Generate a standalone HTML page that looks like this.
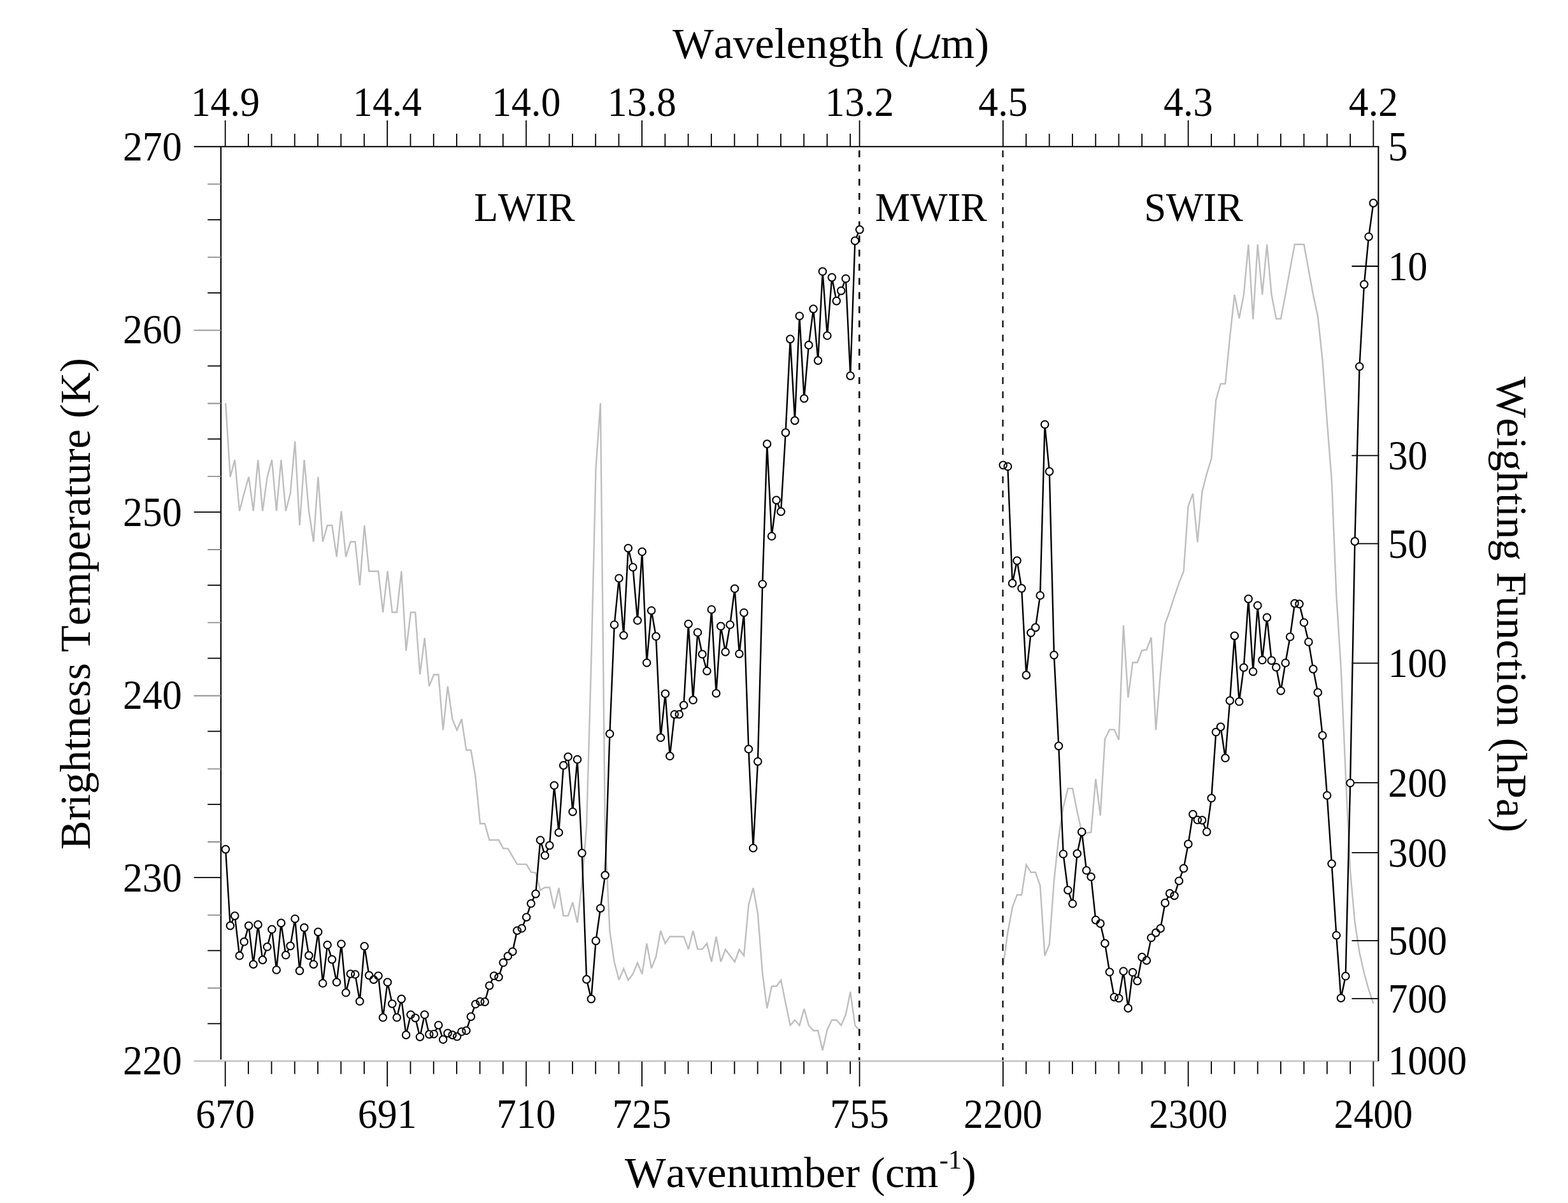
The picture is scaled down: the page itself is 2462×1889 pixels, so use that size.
<!DOCTYPE html>
<html lang="en"><head><meta charset="utf-8"><title>Brightness temperature and weighting function</title>
<style>html,body{margin:0;padding:0;background:#fff;overflow:hidden}svg{display:block}text{font-family:"Liberation Serif","DejaVu Serif",serif;fill:#000;font-kerning:none;font-variant-ligatures:none}.tk{font-size:61.8px}.tt{font-size:68.5px}.rg{font-size:62px}</style></head><body>
<svg width="2462" height="1889" viewBox="0 0 2462 1889" role="img" aria-label="Brightness temperature and weighting function versus wavenumber">
<rect width="2462" height="1889" fill="#fff"/>
<g id="weighting">
<polyline points="354.2,633.2 361.5,748.9 368.7,722.1 376,802.5 383.3,774.6 390.5,748.9 397.8,802.5 405.1,722.1 412.3,802.5 419.6,748.9 426.9,722.1 434.1,802.5 441.4,722.1 448.7,802.5 455.9,774.6 463.2,693.2 470.5,825 477.7,722.1 485,802.5 492.3,850.7 499.5,748.9 506.8,850.7 514.1,825 521.3,825 528.6,874.3 535.9,802.5 543.1,874.3 550.4,850.7 557.7,850.7 564.9,919 572.2,825 579.5,897 586.7,897 594,897 601.3,961.5 608.5,897 615.8,961.5 623.1,961.5 630.3,897 637.6,1021.9 644.9,961.5 652.1,961.5 659.4,1059.2 666.7,1001.7 673.9,1077.6 681.2,1059.2 688.5,1059.2 695.7,1146.4 703,1077.6 710.3,1129.2 717.5,1146.4 724.8,1129.2 732.1,1177.7 739.4,1177.7 746.6,1220 753.9,1293.3 761.2,1293.3 768.4,1319 775.7,1319 783,1319 790.2,1332.4 797.5,1332.4 804.8,1344.8 812,1357.1 819.3,1357.1 826.6,1357.1 833.8,1369.5 841.1,1370.5 848.4,1398 855.6,1393.5 862.9,1393.5 870.2,1426.5 877.4,1394.2 884.7,1438 892,1438 899.2,1416.8 906.5,1448.8 913.8,1387 921,1297 928.3,1040 935.6,735 942.8,633 950.1,1310 957.4,1462 964.6,1511 971.9,1538.6 979.2,1521 986.4,1539.1 993.7,1529.5 1001,1511.9 1008.2,1529.5 1015.5,1481.4 1022.8,1520.4 1030,1502.3 1037.3,1461.6 1044.6,1481.4 1051.8,1470.7 1059.1,1470.7 1066.4,1470.7 1073.6,1470.7 1080.9,1490.4 1088.2,1461.6 1095.4,1490.4 1102.7,1490.4 1110,1481.4 1117.2,1510.2 1124.5,1470.7 1131.8,1510.2 1139,1491 1146.3,1500.6 1153.6,1510.2 1160.8,1491 1168.1,1500.6 1175.4,1421 1182.6,1394.2 1189.9,1435 1197.2,1528.3 1204.4,1583.3 1211.7,1548.7 1219,1548.7 1226.2,1539.2 1233.5,1575 1240.8,1610 1248,1601.7 1255.3,1610 1262.6,1584.2 1269.8,1610 1277.1,1618.3 1284.4,1618.3 1291.6,1649.2 1298.9,1616.7 1306.2,1601.7 1313.4,1601.7 1320.7,1610 1328,1593.3 1335.2,1557.5 1342.5,1610 1349.8,1618.3" fill="none" stroke="#bebebe" stroke-width="2.4" stroke-linejoin="miter" stroke-miterlimit="3"/>
<polyline points="1575.1,1516.6 1582.3,1464.2 1589.6,1424.9 1596.9,1405.2 1604.1,1405.2 1611.4,1358.1 1618.7,1369.8 1625.9,1369.8 1633.2,1390.8 1640.5,1500.8 1647.7,1482.5 1655,1383 1662.3,1314.8 1669.5,1267.7 1676.8,1238.1 1684.1,1238.1 1691.3,1274.2 1698.6,1307 1705.9,1308 1713.1,1307 1720.4,1223.1 1727.7,1280.5 1734.9,1160.2 1742.2,1145.6 1749.5,1145.6 1756.7,1161.6 1764,981.7 1771.3,1095.3 1778.5,1040.2 1785.8,1040.2 1793.1,1021.4 1800.3,1020.3 1807.6,1001 1814.9,1146.5 1822.1,1057.5 1829.4,979.6 1836.7,959.2 1843.9,936.8 1851.2,915.3 1858.5,897.1 1865.7,794.5 1873,775.2 1880.3,851.5 1887.5,772.2 1894.8,743.9 1902.1,720.1 1909.3,627.9 1916.6,602.6 1923.9,602.6 1931.1,529.6 1938.4,462.7 1945.7,499.9 1952.9,462.7 1960.2,383.8 1967.5,501.4 1974.7,383.8 1982,462.7 1989.3,383.8 1996.5,462.7 2003.8,500.5 2011.1,500.5 2018.3,462.7 2025.6,422.5 2032.9,383.8 2040.1,383.8 2047.4,383.8 2054.7,424 2061.9,462.7 2069.2,496.9 2076.5,565 2083.7,662 2091,755 2098.3,935 2105.5,1048 2112.8,1215 2120.1,1368 2127.3,1448 2134.6,1496 2141.9,1528 2149.1,1554 2156.4,1576" fill="none" stroke="#bebebe" stroke-width="2.4" stroke-linejoin="miter" stroke-miterlimit="3"/>
</g>
<g id="axes" stroke="#000" stroke-width="2.1" fill="none">
<line x1="304.5" y1="1666.1" x2="2164.3" y2="1666.1" stroke="#c6c6c6" stroke-width="2.8"/>
<line x1="304.5" y1="230.3" x2="2165.3" y2="230.3"/>
<line x1="346.8" y1="230.3" x2="346.8" y2="1663.8"/>
<line x1="2164.3" y1="230.3" x2="2164.3" y2="1666.3"/>
<path d="M353.7 230.3V189M353.7 1666.8V1706M390 230.3V210M390 1666.8V1686.5M426.4 230.3V210M426.4 1666.8V1686.5M462.7 230.3V210M462.7 1666.8V1686.5M499.1 230.3V210M499.1 1666.8V1686.5M535.4 230.3V210M535.4 1666.8V1686.5M571.8 230.3V210M571.8 1666.8V1686.5M608.1 230.3V189M608.1 1666.8V1706M644.5 230.3V210M644.5 1666.8V1686.5M680.8 230.3V210M680.8 1666.8V1686.5M717.1 230.3V210M717.1 1666.8V1686.5M753.5 230.3V210M753.5 1666.8V1686.5M789.8 230.3V210M789.8 1666.8V1686.5M826.2 230.3V189M826.2 1666.8V1706M862.5 230.3V210M862.5 1666.8V1686.5M898.9 230.3V210M898.9 1666.8V1686.5M935.2 230.3V210M935.2 1666.8V1686.5M971.6 230.3V210M971.6 1666.8V1686.5M1007.9 230.3V189M1007.9 1666.8V1706M1044.3 230.3V210M1044.3 1666.8V1686.5M1080.6 230.3V210M1080.6 1666.8V1686.5M1116.9 230.3V210M1116.9 1666.8V1686.5M1153.3 230.3V210M1153.3 1666.8V1686.5M1189.6 230.3V210M1189.6 1666.8V1686.5M1226 230.3V210M1226 1666.8V1686.5M1262.3 230.3V210M1262.3 1666.8V1686.5M1298.7 230.3V210M1298.7 1666.8V1686.5M1335 230.3V210M1335 1666.8V1686.5M1349.6 230.3V189M1349.6 1666.8V1706M1574.9 230.3V189M1574.9 1666.8V1706M1611.2 230.3V210M1611.2 1666.8V1686.5M1647.6 230.3V210M1647.6 1666.8V1686.5M1683.9 230.3V210M1683.9 1666.8V1686.5M1720.3 230.3V210M1720.3 1666.8V1686.5M1756.6 230.3V210M1756.6 1666.8V1686.5M1793 230.3V210M1793 1666.8V1686.5M1829.3 230.3V210M1829.3 1666.8V1686.5M1865.7 230.3V189M1865.7 1666.8V1706M1902 230.3V210M1902 1666.8V1686.5M1938.3 230.3V210M1938.3 1666.8V1686.5M1974.7 230.3V210M1974.7 1666.8V1686.5M2011 230.3V210M2011 1666.8V1686.5M2047.4 230.3V210M2047.4 1666.8V1686.5M2083.7 230.3V210M2083.7 1666.8V1686.5M2120.1 230.3V210M2120.1 1666.8V1686.5M2156.4 230.3V189M2156.4 1666.8V1706M326 345.1H346.8M326 459.8H346.8M326 574.6H346.8M326 689.3H346.8M304.5 804.1H346.8M326 918.9H346.8M326 1033.6H346.8M326 1148.4H346.8M326 1263.1H346.8M304.5 1377.9H346.8M326 1492.7H346.8M326 1607.4H346.8M2122.5 418H2164.3M2122.5 715.4H2164.3M2122.5 853.7H2164.3M2122.5 1041.4H2164.3M2122.5 1229.1H2164.3M2122.5 1338.8H2164.3M2122.5 1477.1H2164.3M2122.5 1568.2H2164.3" stroke-width="1.8"/>
<path d="M326 289.2H346.8M326 403.9H346.8M304.5 518.7H346.8M326 633.5H346.8M326 748.2H346.8M326 863H346.8M326 977.7H346.8M304.5 1092.5H346.8M326 1207.3H346.8M326 1322H346.8M326 1436.8H346.8M326 1551.5H346.8" stroke="#8f8f8f" stroke-width="1.8"/>
<line x1="1349.3" y1="230.3" x2="1349.3" y2="1664.8" stroke-width="2.6" stroke-dasharray="10.8 11.45" stroke-dashoffset="-6"/>
<line x1="1574.6" y1="230.3" x2="1574.6" y2="1664.8" stroke-width="2.2" stroke-dasharray="10.8 11.45" stroke-dashoffset="-6"/>
</g>
<g id="brightness" stroke="#000" fill="none">
<polyline points="354.2,1333.6 361.5,1453.6 368.7,1438.1 376,1500.8 383.3,1478.8 390.5,1453.6 397.8,1514.2 405.1,1451.9 412.3,1507.4 419.6,1486.8 426.9,1459.3 434.1,1523 441.4,1449.4 448.7,1499.8 455.9,1485.4 463.2,1442.7 470.5,1524.4 477.7,1456.6 485,1500.4 492.3,1514.2 499.5,1463.4 506.8,1544 514.1,1483.8 521.3,1506.6 528.6,1542.3 535.9,1482.3 543.1,1558.8 550.4,1529.2 557.7,1530 564.9,1572.3 572.2,1485.8 579.5,1531.6 586.7,1538.2 594,1532.2 601.3,1597.8 608.5,1542.3 615.8,1576.2 623.1,1597.8 630.3,1568.6 637.6,1625.1 644.9,1593.3 652.1,1598.4 659.4,1628.2 666.7,1593.3 673.9,1624.1 681.2,1623.7 688.5,1609.7 695.7,1632.3 703,1622.4 710.3,1625.1 717.5,1627.8 724.8,1620 732.1,1618.3 739.4,1596.4 746.6,1576.8 753.9,1572.7 761.2,1573.1 768.4,1547.7 775.7,1532.3 783,1534.3 790.2,1511.5 797.5,1501.3 804.8,1494.2 812,1461.2 819.3,1457.8 826.6,1440.2 833.8,1418.8 841.1,1403.6 848.4,1319.2 855.6,1343.3 862.9,1327.6 870.2,1233.3 877.4,1307.2 884.7,1201.9 892,1188.3 899.2,1274.7 906.5,1192.5 913.8,1339.6 921,1537.9 928.3,1568.6 935.6,1477.4 942.8,1426.2 950.1,1374.3 957.4,1152.3 964.6,981 971.9,908 979.2,997.7 986.4,860.7 993.7,890.7 1001,974.3 1008.2,866.3 1015.5,1040.7 1022.8,958.7 1030,999.3 1037.3,1158.3 1044.6,1089.3 1051.8,1187.3 1059.1,1121.7 1066.4,1121.7 1073.6,1107.3 1080.9,979.7 1088.2,1099.3 1095.4,993 1102.7,1027.3 1110,1053.7 1117.2,957 1124.5,1088.7 1131.8,983.3 1139,1023.7 1146.3,981 1153.6,924.3 1160.8,1026.7 1168.1,962 1175.4,1176.3 1182.6,1331.7 1189.9,1195.7 1197.2,917.2 1204.4,697.1 1211.7,842 1219,785.3 1226.2,803.4 1233.5,679.4 1240.8,532.4 1248,660.4 1255.3,496.2 1262.6,625.7 1269.8,541.9 1277.1,485.1 1284.4,566.1 1291.6,426.3 1298.9,527 1306.2,435.6 1313.4,472.6 1320.7,456.6 1328,437.5 1335.2,590.1 1342.5,378.1 1349.8,360.6" fill="none" stroke="#000" stroke-width="2.4" stroke-linejoin="miter" stroke-miterlimit="3"/>
<polyline points="1575.1,730.3 1582.3,732.5 1589.6,915.9 1596.9,880.3 1604.1,923.8 1611.4,1060.1 1618.7,993.6 1625.9,985.4 1633.2,935 1640.5,666.5 1647.7,740.4 1655,1028.6 1662.3,1171.4 1669.5,1341 1676.8,1397.7 1684.1,1419 1691.3,1340.4 1698.6,1306.4 1705.9,1366.8 1713.1,1376.8 1720.4,1444.6 1727.7,1450.1 1734.9,1481.4 1742.2,1526.3 1749.5,1565.7 1756.7,1567.5 1764,1525 1771.3,1583.2 1778.5,1526.8 1785.8,1540.4 1793.1,1502.9 1800.3,1508.2 1807.6,1472.5 1814.9,1464.6 1822.1,1457.9 1829.4,1417.9 1836.7,1402.9 1843.9,1406.4 1851.2,1383.2 1858.5,1363.6 1865.7,1325.4 1873,1278.6 1880.3,1287.5 1887.5,1287.9 1894.8,1306.1 1902.1,1253.3 1909.3,1149.5 1916.6,1141.3 1923.9,1190.3 1931.1,1100.1 1938.4,998.4 1945.7,1101.8 1952.9,1048.2 1960.2,940.4 1967.5,1054.7 1974.7,950.8 1982,1036.5 1989.3,969.6 1996.5,1037.1 2003.8,1047.8 2011.1,1084.7 2018.3,1041 2025.6,1000 2032.9,947.6 2040.1,948.4 2047.4,977.5 2054.7,1008 2061.9,1050.6 2069.2,1087.4 2076.5,1154.9 2083.7,1249 2091,1356.3 2098.3,1468.7 2105.5,1567.2 2112.8,1532.8 2120.1,1229.5 2127.3,850.1 2134.6,575.5 2141.9,446.6 2149.1,371.7 2156.4,318.9" fill="none" stroke="#000" stroke-width="2.4" stroke-linejoin="miter" stroke-miterlimit="3"/>
<path d="M348.4 1333.6a5.8 5.8 0 1 0 11.6 0a5.8 5.8 0 1 0 -11.6 0zM355.7 1453.6a5.8 5.8 0 1 0 11.6 0a5.8 5.8 0 1 0 -11.6 0zM362.9 1438.1a5.8 5.8 0 1 0 11.6 0a5.8 5.8 0 1 0 -11.6 0zM370.2 1500.8a5.8 5.8 0 1 0 11.6 0a5.8 5.8 0 1 0 -11.6 0zM377.5 1478.8a5.8 5.8 0 1 0 11.6 0a5.8 5.8 0 1 0 -11.6 0zM384.7 1453.6a5.8 5.8 0 1 0 11.6 0a5.8 5.8 0 1 0 -11.6 0zM392 1514.2a5.8 5.8 0 1 0 11.6 0a5.8 5.8 0 1 0 -11.6 0zM399.3 1451.9a5.8 5.8 0 1 0 11.6 0a5.8 5.8 0 1 0 -11.6 0zM406.5 1507.4a5.8 5.8 0 1 0 11.6 0a5.8 5.8 0 1 0 -11.6 0zM413.8 1486.8a5.8 5.8 0 1 0 11.6 0a5.8 5.8 0 1 0 -11.6 0zM421.1 1459.3a5.8 5.8 0 1 0 11.6 0a5.8 5.8 0 1 0 -11.6 0zM428.3 1523a5.8 5.8 0 1 0 11.6 0a5.8 5.8 0 1 0 -11.6 0zM435.6 1449.4a5.8 5.8 0 1 0 11.6 0a5.8 5.8 0 1 0 -11.6 0zM442.9 1499.8a5.8 5.8 0 1 0 11.6 0a5.8 5.8 0 1 0 -11.6 0zM450.1 1485.4a5.8 5.8 0 1 0 11.6 0a5.8 5.8 0 1 0 -11.6 0zM457.4 1442.7a5.8 5.8 0 1 0 11.6 0a5.8 5.8 0 1 0 -11.6 0zM464.7 1524.4a5.8 5.8 0 1 0 11.6 0a5.8 5.8 0 1 0 -11.6 0zM471.9 1456.6a5.8 5.8 0 1 0 11.6 0a5.8 5.8 0 1 0 -11.6 0zM479.2 1500.4a5.8 5.8 0 1 0 11.6 0a5.8 5.8 0 1 0 -11.6 0zM486.5 1514.2a5.8 5.8 0 1 0 11.6 0a5.8 5.8 0 1 0 -11.6 0zM493.7 1463.4a5.8 5.8 0 1 0 11.6 0a5.8 5.8 0 1 0 -11.6 0zM501 1544a5.8 5.8 0 1 0 11.6 0a5.8 5.8 0 1 0 -11.6 0zM508.3 1483.8a5.8 5.8 0 1 0 11.6 0a5.8 5.8 0 1 0 -11.6 0zM515.5 1506.6a5.8 5.8 0 1 0 11.6 0a5.8 5.8 0 1 0 -11.6 0zM522.8 1542.3a5.8 5.8 0 1 0 11.6 0a5.8 5.8 0 1 0 -11.6 0zM530.1 1482.3a5.8 5.8 0 1 0 11.6 0a5.8 5.8 0 1 0 -11.6 0zM537.3 1558.8a5.8 5.8 0 1 0 11.6 0a5.8 5.8 0 1 0 -11.6 0zM544.6 1529.2a5.8 5.8 0 1 0 11.6 0a5.8 5.8 0 1 0 -11.6 0zM551.9 1530a5.8 5.8 0 1 0 11.6 0a5.8 5.8 0 1 0 -11.6 0zM559.1 1572.3a5.8 5.8 0 1 0 11.6 0a5.8 5.8 0 1 0 -11.6 0zM566.4 1485.8a5.8 5.8 0 1 0 11.6 0a5.8 5.8 0 1 0 -11.6 0zM573.7 1531.6a5.8 5.8 0 1 0 11.6 0a5.8 5.8 0 1 0 -11.6 0zM580.9 1538.2a5.8 5.8 0 1 0 11.6 0a5.8 5.8 0 1 0 -11.6 0zM588.2 1532.2a5.8 5.8 0 1 0 11.6 0a5.8 5.8 0 1 0 -11.6 0zM595.5 1597.8a5.8 5.8 0 1 0 11.6 0a5.8 5.8 0 1 0 -11.6 0zM602.7 1542.3a5.8 5.8 0 1 0 11.6 0a5.8 5.8 0 1 0 -11.6 0zM610 1576.2a5.8 5.8 0 1 0 11.6 0a5.8 5.8 0 1 0 -11.6 0zM617.3 1597.8a5.8 5.8 0 1 0 11.6 0a5.8 5.8 0 1 0 -11.6 0zM624.5 1568.6a5.8 5.8 0 1 0 11.6 0a5.8 5.8 0 1 0 -11.6 0zM631.8 1625.1a5.8 5.8 0 1 0 11.6 0a5.8 5.8 0 1 0 -11.6 0zM639.1 1593.3a5.8 5.8 0 1 0 11.6 0a5.8 5.8 0 1 0 -11.6 0zM646.3 1598.4a5.8 5.8 0 1 0 11.6 0a5.8 5.8 0 1 0 -11.6 0zM653.6 1628.2a5.8 5.8 0 1 0 11.6 0a5.8 5.8 0 1 0 -11.6 0zM660.9 1593.3a5.8 5.8 0 1 0 11.6 0a5.8 5.8 0 1 0 -11.6 0zM668.1 1624.1a5.8 5.8 0 1 0 11.6 0a5.8 5.8 0 1 0 -11.6 0zM675.4 1623.7a5.8 5.8 0 1 0 11.6 0a5.8 5.8 0 1 0 -11.6 0zM682.7 1609.7a5.8 5.8 0 1 0 11.6 0a5.8 5.8 0 1 0 -11.6 0zM689.9 1632.3a5.8 5.8 0 1 0 11.6 0a5.8 5.8 0 1 0 -11.6 0zM697.2 1622.4a5.8 5.8 0 1 0 11.6 0a5.8 5.8 0 1 0 -11.6 0zM704.5 1625.1a5.8 5.8 0 1 0 11.6 0a5.8 5.8 0 1 0 -11.6 0zM711.8 1627.8a5.8 5.8 0 1 0 11.6 0a5.8 5.8 0 1 0 -11.6 0zM719 1620a5.8 5.8 0 1 0 11.6 0a5.8 5.8 0 1 0 -11.6 0zM726.3 1618.3a5.8 5.8 0 1 0 11.6 0a5.8 5.8 0 1 0 -11.6 0zM733.6 1596.4a5.8 5.8 0 1 0 11.6 0a5.8 5.8 0 1 0 -11.6 0zM740.8 1576.8a5.8 5.8 0 1 0 11.6 0a5.8 5.8 0 1 0 -11.6 0zM748.1 1572.7a5.8 5.8 0 1 0 11.6 0a5.8 5.8 0 1 0 -11.6 0zM755.4 1573.1a5.8 5.8 0 1 0 11.6 0a5.8 5.8 0 1 0 -11.6 0zM762.6 1547.7a5.8 5.8 0 1 0 11.6 0a5.8 5.8 0 1 0 -11.6 0zM769.9 1532.3a5.8 5.8 0 1 0 11.6 0a5.8 5.8 0 1 0 -11.6 0zM777.2 1534.3a5.8 5.8 0 1 0 11.6 0a5.8 5.8 0 1 0 -11.6 0zM784.4 1511.5a5.8 5.8 0 1 0 11.6 0a5.8 5.8 0 1 0 -11.6 0zM791.7 1501.3a5.8 5.8 0 1 0 11.6 0a5.8 5.8 0 1 0 -11.6 0zM799 1494.2a5.8 5.8 0 1 0 11.6 0a5.8 5.8 0 1 0 -11.6 0zM806.2 1461.2a5.8 5.8 0 1 0 11.6 0a5.8 5.8 0 1 0 -11.6 0zM813.5 1457.8a5.8 5.8 0 1 0 11.6 0a5.8 5.8 0 1 0 -11.6 0zM820.8 1440.2a5.8 5.8 0 1 0 11.6 0a5.8 5.8 0 1 0 -11.6 0zM828 1418.8a5.8 5.8 0 1 0 11.6 0a5.8 5.8 0 1 0 -11.6 0zM835.3 1403.6a5.8 5.8 0 1 0 11.6 0a5.8 5.8 0 1 0 -11.6 0zM842.6 1319.2a5.8 5.8 0 1 0 11.6 0a5.8 5.8 0 1 0 -11.6 0zM849.8 1343.3a5.8 5.8 0 1 0 11.6 0a5.8 5.8 0 1 0 -11.6 0zM857.1 1327.6a5.8 5.8 0 1 0 11.6 0a5.8 5.8 0 1 0 -11.6 0zM864.4 1233.3a5.8 5.8 0 1 0 11.6 0a5.8 5.8 0 1 0 -11.6 0zM871.6 1307.2a5.8 5.8 0 1 0 11.6 0a5.8 5.8 0 1 0 -11.6 0zM878.9 1201.9a5.8 5.8 0 1 0 11.6 0a5.8 5.8 0 1 0 -11.6 0zM886.2 1188.3a5.8 5.8 0 1 0 11.6 0a5.8 5.8 0 1 0 -11.6 0zM893.4 1274.7a5.8 5.8 0 1 0 11.6 0a5.8 5.8 0 1 0 -11.6 0zM900.7 1192.5a5.8 5.8 0 1 0 11.6 0a5.8 5.8 0 1 0 -11.6 0zM908 1339.6a5.8 5.8 0 1 0 11.6 0a5.8 5.8 0 1 0 -11.6 0zM915.2 1537.9a5.8 5.8 0 1 0 11.6 0a5.8 5.8 0 1 0 -11.6 0zM922.5 1568.6a5.8 5.8 0 1 0 11.6 0a5.8 5.8 0 1 0 -11.6 0zM929.8 1477.4a5.8 5.8 0 1 0 11.6 0a5.8 5.8 0 1 0 -11.6 0zM937 1426.2a5.8 5.8 0 1 0 11.6 0a5.8 5.8 0 1 0 -11.6 0zM944.3 1374.3a5.8 5.8 0 1 0 11.6 0a5.8 5.8 0 1 0 -11.6 0zM951.6 1152.3a5.8 5.8 0 1 0 11.6 0a5.8 5.8 0 1 0 -11.6 0zM958.8 981a5.8 5.8 0 1 0 11.6 0a5.8 5.8 0 1 0 -11.6 0zM966.1 908a5.8 5.8 0 1 0 11.6 0a5.8 5.8 0 1 0 -11.6 0zM973.4 997.7a5.8 5.8 0 1 0 11.6 0a5.8 5.8 0 1 0 -11.6 0zM980.6 860.7a5.8 5.8 0 1 0 11.6 0a5.8 5.8 0 1 0 -11.6 0zM987.9 890.7a5.8 5.8 0 1 0 11.6 0a5.8 5.8 0 1 0 -11.6 0zM995.2 974.3a5.8 5.8 0 1 0 11.6 0a5.8 5.8 0 1 0 -11.6 0zM1002.4 866.3a5.8 5.8 0 1 0 11.6 0a5.8 5.8 0 1 0 -11.6 0zM1009.7 1040.7a5.8 5.8 0 1 0 11.6 0a5.8 5.8 0 1 0 -11.6 0zM1017 958.7a5.8 5.8 0 1 0 11.6 0a5.8 5.8 0 1 0 -11.6 0zM1024.2 999.3a5.8 5.8 0 1 0 11.6 0a5.8 5.8 0 1 0 -11.6 0zM1031.5 1158.3a5.8 5.8 0 1 0 11.6 0a5.8 5.8 0 1 0 -11.6 0zM1038.8 1089.3a5.8 5.8 0 1 0 11.6 0a5.8 5.8 0 1 0 -11.6 0zM1046 1187.3a5.8 5.8 0 1 0 11.6 0a5.8 5.8 0 1 0 -11.6 0zM1053.3 1121.7a5.8 5.8 0 1 0 11.6 0a5.8 5.8 0 1 0 -11.6 0zM1060.6 1121.7a5.8 5.8 0 1 0 11.6 0a5.8 5.8 0 1 0 -11.6 0zM1067.8 1107.3a5.8 5.8 0 1 0 11.6 0a5.8 5.8 0 1 0 -11.6 0zM1075.1 979.7a5.8 5.8 0 1 0 11.6 0a5.8 5.8 0 1 0 -11.6 0zM1082.4 1099.3a5.8 5.8 0 1 0 11.6 0a5.8 5.8 0 1 0 -11.6 0zM1089.6 993a5.8 5.8 0 1 0 11.6 0a5.8 5.8 0 1 0 -11.6 0zM1096.9 1027.3a5.8 5.8 0 1 0 11.6 0a5.8 5.8 0 1 0 -11.6 0zM1104.2 1053.7a5.8 5.8 0 1 0 11.6 0a5.8 5.8 0 1 0 -11.6 0zM1111.4 957a5.8 5.8 0 1 0 11.6 0a5.8 5.8 0 1 0 -11.6 0zM1118.7 1088.7a5.8 5.8 0 1 0 11.6 0a5.8 5.8 0 1 0 -11.6 0zM1126 983.3a5.8 5.8 0 1 0 11.6 0a5.8 5.8 0 1 0 -11.6 0zM1133.2 1023.7a5.8 5.8 0 1 0 11.6 0a5.8 5.8 0 1 0 -11.6 0zM1140.5 981a5.8 5.8 0 1 0 11.6 0a5.8 5.8 0 1 0 -11.6 0zM1147.8 924.3a5.8 5.8 0 1 0 11.6 0a5.8 5.8 0 1 0 -11.6 0zM1155 1026.7a5.8 5.8 0 1 0 11.6 0a5.8 5.8 0 1 0 -11.6 0zM1162.3 962a5.8 5.8 0 1 0 11.6 0a5.8 5.8 0 1 0 -11.6 0zM1169.6 1176.3a5.8 5.8 0 1 0 11.6 0a5.8 5.8 0 1 0 -11.6 0zM1176.8 1331.7a5.8 5.8 0 1 0 11.6 0a5.8 5.8 0 1 0 -11.6 0zM1184.1 1195.7a5.8 5.8 0 1 0 11.6 0a5.8 5.8 0 1 0 -11.6 0zM1191.4 917.2a5.8 5.8 0 1 0 11.6 0a5.8 5.8 0 1 0 -11.6 0zM1198.6 697.1a5.8 5.8 0 1 0 11.6 0a5.8 5.8 0 1 0 -11.6 0zM1205.9 842a5.8 5.8 0 1 0 11.6 0a5.8 5.8 0 1 0 -11.6 0zM1213.2 785.3a5.8 5.8 0 1 0 11.6 0a5.8 5.8 0 1 0 -11.6 0zM1220.4 803.4a5.8 5.8 0 1 0 11.6 0a5.8 5.8 0 1 0 -11.6 0zM1227.7 679.4a5.8 5.8 0 1 0 11.6 0a5.8 5.8 0 1 0 -11.6 0zM1235 532.4a5.8 5.8 0 1 0 11.6 0a5.8 5.8 0 1 0 -11.6 0zM1242.2 660.4a5.8 5.8 0 1 0 11.6 0a5.8 5.8 0 1 0 -11.6 0zM1249.5 496.2a5.8 5.8 0 1 0 11.6 0a5.8 5.8 0 1 0 -11.6 0zM1256.8 625.7a5.8 5.8 0 1 0 11.6 0a5.8 5.8 0 1 0 -11.6 0zM1264 541.9a5.8 5.8 0 1 0 11.6 0a5.8 5.8 0 1 0 -11.6 0zM1271.3 485.1a5.8 5.8 0 1 0 11.6 0a5.8 5.8 0 1 0 -11.6 0zM1278.6 566.1a5.8 5.8 0 1 0 11.6 0a5.8 5.8 0 1 0 -11.6 0zM1285.8 426.3a5.8 5.8 0 1 0 11.6 0a5.8 5.8 0 1 0 -11.6 0zM1293.1 527a5.8 5.8 0 1 0 11.6 0a5.8 5.8 0 1 0 -11.6 0zM1300.4 435.6a5.8 5.8 0 1 0 11.6 0a5.8 5.8 0 1 0 -11.6 0zM1307.6 472.6a5.8 5.8 0 1 0 11.6 0a5.8 5.8 0 1 0 -11.6 0zM1314.9 456.6a5.8 5.8 0 1 0 11.6 0a5.8 5.8 0 1 0 -11.6 0zM1322.2 437.5a5.8 5.8 0 1 0 11.6 0a5.8 5.8 0 1 0 -11.6 0zM1329.4 590.1a5.8 5.8 0 1 0 11.6 0a5.8 5.8 0 1 0 -11.6 0zM1336.7 378.1a5.8 5.8 0 1 0 11.6 0a5.8 5.8 0 1 0 -11.6 0zM1344 360.6a5.8 5.8 0 1 0 11.6 0a5.8 5.8 0 1 0 -11.6 0zM1569.3 730.3a5.8 5.8 0 1 0 11.6 0a5.8 5.8 0 1 0 -11.6 0zM1576.5 732.5a5.8 5.8 0 1 0 11.6 0a5.8 5.8 0 1 0 -11.6 0zM1583.8 915.9a5.8 5.8 0 1 0 11.6 0a5.8 5.8 0 1 0 -11.6 0zM1591.1 880.3a5.8 5.8 0 1 0 11.6 0a5.8 5.8 0 1 0 -11.6 0zM1598.3 923.8a5.8 5.8 0 1 0 11.6 0a5.8 5.8 0 1 0 -11.6 0zM1605.6 1060.1a5.8 5.8 0 1 0 11.6 0a5.8 5.8 0 1 0 -11.6 0zM1612.9 993.6a5.8 5.8 0 1 0 11.6 0a5.8 5.8 0 1 0 -11.6 0zM1620.1 985.4a5.8 5.8 0 1 0 11.6 0a5.8 5.8 0 1 0 -11.6 0zM1627.4 935a5.8 5.8 0 1 0 11.6 0a5.8 5.8 0 1 0 -11.6 0zM1634.7 666.5a5.8 5.8 0 1 0 11.6 0a5.8 5.8 0 1 0 -11.6 0zM1641.9 740.4a5.8 5.8 0 1 0 11.6 0a5.8 5.8 0 1 0 -11.6 0zM1649.2 1028.6a5.8 5.8 0 1 0 11.6 0a5.8 5.8 0 1 0 -11.6 0zM1656.5 1171.4a5.8 5.8 0 1 0 11.6 0a5.8 5.8 0 1 0 -11.6 0zM1663.7 1341a5.8 5.8 0 1 0 11.6 0a5.8 5.8 0 1 0 -11.6 0zM1671 1397.7a5.8 5.8 0 1 0 11.6 0a5.8 5.8 0 1 0 -11.6 0zM1678.3 1419a5.8 5.8 0 1 0 11.6 0a5.8 5.8 0 1 0 -11.6 0zM1685.5 1340.4a5.8 5.8 0 1 0 11.6 0a5.8 5.8 0 1 0 -11.6 0zM1692.8 1306.4a5.8 5.8 0 1 0 11.6 0a5.8 5.8 0 1 0 -11.6 0zM1700.1 1366.8a5.8 5.8 0 1 0 11.6 0a5.8 5.8 0 1 0 -11.6 0zM1707.3 1376.8a5.8 5.8 0 1 0 11.6 0a5.8 5.8 0 1 0 -11.6 0zM1714.6 1444.6a5.8 5.8 0 1 0 11.6 0a5.8 5.8 0 1 0 -11.6 0zM1721.9 1450.1a5.8 5.8 0 1 0 11.6 0a5.8 5.8 0 1 0 -11.6 0zM1729.1 1481.4a5.8 5.8 0 1 0 11.6 0a5.8 5.8 0 1 0 -11.6 0zM1736.4 1526.3a5.8 5.8 0 1 0 11.6 0a5.8 5.8 0 1 0 -11.6 0zM1743.7 1565.7a5.8 5.8 0 1 0 11.6 0a5.8 5.8 0 1 0 -11.6 0zM1750.9 1567.5a5.8 5.8 0 1 0 11.6 0a5.8 5.8 0 1 0 -11.6 0zM1758.2 1525a5.8 5.8 0 1 0 11.6 0a5.8 5.8 0 1 0 -11.6 0zM1765.5 1583.2a5.8 5.8 0 1 0 11.6 0a5.8 5.8 0 1 0 -11.6 0zM1772.7 1526.8a5.8 5.8 0 1 0 11.6 0a5.8 5.8 0 1 0 -11.6 0zM1780 1540.4a5.8 5.8 0 1 0 11.6 0a5.8 5.8 0 1 0 -11.6 0zM1787.3 1502.9a5.8 5.8 0 1 0 11.6 0a5.8 5.8 0 1 0 -11.6 0zM1794.5 1508.2a5.8 5.8 0 1 0 11.6 0a5.8 5.8 0 1 0 -11.6 0zM1801.8 1472.5a5.8 5.8 0 1 0 11.6 0a5.8 5.8 0 1 0 -11.6 0zM1809.1 1464.6a5.8 5.8 0 1 0 11.6 0a5.8 5.8 0 1 0 -11.6 0zM1816.3 1457.9a5.8 5.8 0 1 0 11.6 0a5.8 5.8 0 1 0 -11.6 0zM1823.6 1417.9a5.8 5.8 0 1 0 11.6 0a5.8 5.8 0 1 0 -11.6 0zM1830.9 1402.9a5.8 5.8 0 1 0 11.6 0a5.8 5.8 0 1 0 -11.6 0zM1838.1 1406.4a5.8 5.8 0 1 0 11.6 0a5.8 5.8 0 1 0 -11.6 0zM1845.4 1383.2a5.8 5.8 0 1 0 11.6 0a5.8 5.8 0 1 0 -11.6 0zM1852.7 1363.6a5.8 5.8 0 1 0 11.6 0a5.8 5.8 0 1 0 -11.6 0zM1859.9 1325.4a5.8 5.8 0 1 0 11.6 0a5.8 5.8 0 1 0 -11.6 0zM1867.2 1278.6a5.8 5.8 0 1 0 11.6 0a5.8 5.8 0 1 0 -11.6 0zM1874.5 1287.5a5.8 5.8 0 1 0 11.6 0a5.8 5.8 0 1 0 -11.6 0zM1881.7 1287.9a5.8 5.8 0 1 0 11.6 0a5.8 5.8 0 1 0 -11.6 0zM1889 1306.1a5.8 5.8 0 1 0 11.6 0a5.8 5.8 0 1 0 -11.6 0zM1896.3 1253.3a5.8 5.8 0 1 0 11.6 0a5.8 5.8 0 1 0 -11.6 0zM1903.5 1149.5a5.8 5.8 0 1 0 11.6 0a5.8 5.8 0 1 0 -11.6 0zM1910.8 1141.3a5.8 5.8 0 1 0 11.6 0a5.8 5.8 0 1 0 -11.6 0zM1918.1 1190.3a5.8 5.8 0 1 0 11.6 0a5.8 5.8 0 1 0 -11.6 0zM1925.3 1100.1a5.8 5.8 0 1 0 11.6 0a5.8 5.8 0 1 0 -11.6 0zM1932.6 998.4a5.8 5.8 0 1 0 11.6 0a5.8 5.8 0 1 0 -11.6 0zM1939.9 1101.8a5.8 5.8 0 1 0 11.6 0a5.8 5.8 0 1 0 -11.6 0zM1947.1 1048.2a5.8 5.8 0 1 0 11.6 0a5.8 5.8 0 1 0 -11.6 0zM1954.4 940.4a5.8 5.8 0 1 0 11.6 0a5.8 5.8 0 1 0 -11.6 0zM1961.7 1054.7a5.8 5.8 0 1 0 11.6 0a5.8 5.8 0 1 0 -11.6 0zM1968.9 950.8a5.8 5.8 0 1 0 11.6 0a5.8 5.8 0 1 0 -11.6 0zM1976.2 1036.5a5.8 5.8 0 1 0 11.6 0a5.8 5.8 0 1 0 -11.6 0zM1983.5 969.6a5.8 5.8 0 1 0 11.6 0a5.8 5.8 0 1 0 -11.6 0zM1990.7 1037.1a5.8 5.8 0 1 0 11.6 0a5.8 5.8 0 1 0 -11.6 0zM1998 1047.8a5.8 5.8 0 1 0 11.6 0a5.8 5.8 0 1 0 -11.6 0zM2005.3 1084.7a5.8 5.8 0 1 0 11.6 0a5.8 5.8 0 1 0 -11.6 0zM2012.5 1041a5.8 5.8 0 1 0 11.6 0a5.8 5.8 0 1 0 -11.6 0zM2019.8 1000a5.8 5.8 0 1 0 11.6 0a5.8 5.8 0 1 0 -11.6 0zM2027.1 947.6a5.8 5.8 0 1 0 11.6 0a5.8 5.8 0 1 0 -11.6 0zM2034.3 948.4a5.8 5.8 0 1 0 11.6 0a5.8 5.8 0 1 0 -11.6 0zM2041.6 977.5a5.8 5.8 0 1 0 11.6 0a5.8 5.8 0 1 0 -11.6 0zM2048.9 1008a5.8 5.8 0 1 0 11.6 0a5.8 5.8 0 1 0 -11.6 0zM2056.1 1050.6a5.8 5.8 0 1 0 11.6 0a5.8 5.8 0 1 0 -11.6 0zM2063.4 1087.4a5.8 5.8 0 1 0 11.6 0a5.8 5.8 0 1 0 -11.6 0zM2070.7 1154.9a5.8 5.8 0 1 0 11.6 0a5.8 5.8 0 1 0 -11.6 0zM2077.9 1249a5.8 5.8 0 1 0 11.6 0a5.8 5.8 0 1 0 -11.6 0zM2085.2 1356.3a5.8 5.8 0 1 0 11.6 0a5.8 5.8 0 1 0 -11.6 0zM2092.5 1468.7a5.8 5.8 0 1 0 11.6 0a5.8 5.8 0 1 0 -11.6 0zM2099.7 1567.2a5.8 5.8 0 1 0 11.6 0a5.8 5.8 0 1 0 -11.6 0zM2107 1532.8a5.8 5.8 0 1 0 11.6 0a5.8 5.8 0 1 0 -11.6 0zM2114.3 1229.5a5.8 5.8 0 1 0 11.6 0a5.8 5.8 0 1 0 -11.6 0zM2121.5 850.1a5.8 5.8 0 1 0 11.6 0a5.8 5.8 0 1 0 -11.6 0zM2128.8 575.5a5.8 5.8 0 1 0 11.6 0a5.8 5.8 0 1 0 -11.6 0zM2136.1 446.6a5.8 5.8 0 1 0 11.6 0a5.8 5.8 0 1 0 -11.6 0zM2143.3 371.7a5.8 5.8 0 1 0 11.6 0a5.8 5.8 0 1 0 -11.6 0zM2150.6 318.9a5.8 5.8 0 1 0 11.6 0a5.8 5.8 0 1 0 -11.6 0z" fill="#fff" stroke="none"/>
<path d="M348.4 1333.6a5.8 5.8 0 1 0 11.6 0a5.8 5.8 0 1 0 -11.6 0zM355.7 1453.6a5.8 5.8 0 1 0 11.6 0a5.8 5.8 0 1 0 -11.6 0zM362.9 1438.1a5.8 5.8 0 1 0 11.6 0a5.8 5.8 0 1 0 -11.6 0zM370.2 1500.8a5.8 5.8 0 1 0 11.6 0a5.8 5.8 0 1 0 -11.6 0zM377.5 1478.8a5.8 5.8 0 1 0 11.6 0a5.8 5.8 0 1 0 -11.6 0zM384.7 1453.6a5.8 5.8 0 1 0 11.6 0a5.8 5.8 0 1 0 -11.6 0zM392 1514.2a5.8 5.8 0 1 0 11.6 0a5.8 5.8 0 1 0 -11.6 0zM399.3 1451.9a5.8 5.8 0 1 0 11.6 0a5.8 5.8 0 1 0 -11.6 0zM406.5 1507.4a5.8 5.8 0 1 0 11.6 0a5.8 5.8 0 1 0 -11.6 0zM413.8 1486.8a5.8 5.8 0 1 0 11.6 0a5.8 5.8 0 1 0 -11.6 0zM421.1 1459.3a5.8 5.8 0 1 0 11.6 0a5.8 5.8 0 1 0 -11.6 0zM428.3 1523a5.8 5.8 0 1 0 11.6 0a5.8 5.8 0 1 0 -11.6 0zM435.6 1449.4a5.8 5.8 0 1 0 11.6 0a5.8 5.8 0 1 0 -11.6 0zM442.9 1499.8a5.8 5.8 0 1 0 11.6 0a5.8 5.8 0 1 0 -11.6 0zM450.1 1485.4a5.8 5.8 0 1 0 11.6 0a5.8 5.8 0 1 0 -11.6 0zM457.4 1442.7a5.8 5.8 0 1 0 11.6 0a5.8 5.8 0 1 0 -11.6 0zM464.7 1524.4a5.8 5.8 0 1 0 11.6 0a5.8 5.8 0 1 0 -11.6 0zM471.9 1456.6a5.8 5.8 0 1 0 11.6 0a5.8 5.8 0 1 0 -11.6 0zM479.2 1500.4a5.8 5.8 0 1 0 11.6 0a5.8 5.8 0 1 0 -11.6 0zM486.5 1514.2a5.8 5.8 0 1 0 11.6 0a5.8 5.8 0 1 0 -11.6 0zM493.7 1463.4a5.8 5.8 0 1 0 11.6 0a5.8 5.8 0 1 0 -11.6 0zM501 1544a5.8 5.8 0 1 0 11.6 0a5.8 5.8 0 1 0 -11.6 0zM508.3 1483.8a5.8 5.8 0 1 0 11.6 0a5.8 5.8 0 1 0 -11.6 0zM515.5 1506.6a5.8 5.8 0 1 0 11.6 0a5.8 5.8 0 1 0 -11.6 0zM522.8 1542.3a5.8 5.8 0 1 0 11.6 0a5.8 5.8 0 1 0 -11.6 0zM530.1 1482.3a5.8 5.8 0 1 0 11.6 0a5.8 5.8 0 1 0 -11.6 0zM537.3 1558.8a5.8 5.8 0 1 0 11.6 0a5.8 5.8 0 1 0 -11.6 0zM544.6 1529.2a5.8 5.8 0 1 0 11.6 0a5.8 5.8 0 1 0 -11.6 0zM551.9 1530a5.8 5.8 0 1 0 11.6 0a5.8 5.8 0 1 0 -11.6 0zM559.1 1572.3a5.8 5.8 0 1 0 11.6 0a5.8 5.8 0 1 0 -11.6 0zM566.4 1485.8a5.8 5.8 0 1 0 11.6 0a5.8 5.8 0 1 0 -11.6 0zM573.7 1531.6a5.8 5.8 0 1 0 11.6 0a5.8 5.8 0 1 0 -11.6 0zM580.9 1538.2a5.8 5.8 0 1 0 11.6 0a5.8 5.8 0 1 0 -11.6 0zM588.2 1532.2a5.8 5.8 0 1 0 11.6 0a5.8 5.8 0 1 0 -11.6 0zM595.5 1597.8a5.8 5.8 0 1 0 11.6 0a5.8 5.8 0 1 0 -11.6 0zM602.7 1542.3a5.8 5.8 0 1 0 11.6 0a5.8 5.8 0 1 0 -11.6 0zM610 1576.2a5.8 5.8 0 1 0 11.6 0a5.8 5.8 0 1 0 -11.6 0zM617.3 1597.8a5.8 5.8 0 1 0 11.6 0a5.8 5.8 0 1 0 -11.6 0zM624.5 1568.6a5.8 5.8 0 1 0 11.6 0a5.8 5.8 0 1 0 -11.6 0zM631.8 1625.1a5.8 5.8 0 1 0 11.6 0a5.8 5.8 0 1 0 -11.6 0zM639.1 1593.3a5.8 5.8 0 1 0 11.6 0a5.8 5.8 0 1 0 -11.6 0zM646.3 1598.4a5.8 5.8 0 1 0 11.6 0a5.8 5.8 0 1 0 -11.6 0zM653.6 1628.2a5.8 5.8 0 1 0 11.6 0a5.8 5.8 0 1 0 -11.6 0zM660.9 1593.3a5.8 5.8 0 1 0 11.6 0a5.8 5.8 0 1 0 -11.6 0zM668.1 1624.1a5.8 5.8 0 1 0 11.6 0a5.8 5.8 0 1 0 -11.6 0zM675.4 1623.7a5.8 5.8 0 1 0 11.6 0a5.8 5.8 0 1 0 -11.6 0zM682.7 1609.7a5.8 5.8 0 1 0 11.6 0a5.8 5.8 0 1 0 -11.6 0zM689.9 1632.3a5.8 5.8 0 1 0 11.6 0a5.8 5.8 0 1 0 -11.6 0zM697.2 1622.4a5.8 5.8 0 1 0 11.6 0a5.8 5.8 0 1 0 -11.6 0zM704.5 1625.1a5.8 5.8 0 1 0 11.6 0a5.8 5.8 0 1 0 -11.6 0zM711.8 1627.8a5.8 5.8 0 1 0 11.6 0a5.8 5.8 0 1 0 -11.6 0zM719 1620a5.8 5.8 0 1 0 11.6 0a5.8 5.8 0 1 0 -11.6 0zM726.3 1618.3a5.8 5.8 0 1 0 11.6 0a5.8 5.8 0 1 0 -11.6 0zM733.6 1596.4a5.8 5.8 0 1 0 11.6 0a5.8 5.8 0 1 0 -11.6 0zM740.8 1576.8a5.8 5.8 0 1 0 11.6 0a5.8 5.8 0 1 0 -11.6 0zM748.1 1572.7a5.8 5.8 0 1 0 11.6 0a5.8 5.8 0 1 0 -11.6 0zM755.4 1573.1a5.8 5.8 0 1 0 11.6 0a5.8 5.8 0 1 0 -11.6 0zM762.6 1547.7a5.8 5.8 0 1 0 11.6 0a5.8 5.8 0 1 0 -11.6 0zM769.9 1532.3a5.8 5.8 0 1 0 11.6 0a5.8 5.8 0 1 0 -11.6 0zM777.2 1534.3a5.8 5.8 0 1 0 11.6 0a5.8 5.8 0 1 0 -11.6 0zM784.4 1511.5a5.8 5.8 0 1 0 11.6 0a5.8 5.8 0 1 0 -11.6 0zM791.7 1501.3a5.8 5.8 0 1 0 11.6 0a5.8 5.8 0 1 0 -11.6 0zM799 1494.2a5.8 5.8 0 1 0 11.6 0a5.8 5.8 0 1 0 -11.6 0zM806.2 1461.2a5.8 5.8 0 1 0 11.6 0a5.8 5.8 0 1 0 -11.6 0zM813.5 1457.8a5.8 5.8 0 1 0 11.6 0a5.8 5.8 0 1 0 -11.6 0zM820.8 1440.2a5.8 5.8 0 1 0 11.6 0a5.8 5.8 0 1 0 -11.6 0zM828 1418.8a5.8 5.8 0 1 0 11.6 0a5.8 5.8 0 1 0 -11.6 0zM835.3 1403.6a5.8 5.8 0 1 0 11.6 0a5.8 5.8 0 1 0 -11.6 0zM842.6 1319.2a5.8 5.8 0 1 0 11.6 0a5.8 5.8 0 1 0 -11.6 0zM849.8 1343.3a5.8 5.8 0 1 0 11.6 0a5.8 5.8 0 1 0 -11.6 0zM857.1 1327.6a5.8 5.8 0 1 0 11.6 0a5.8 5.8 0 1 0 -11.6 0zM864.4 1233.3a5.8 5.8 0 1 0 11.6 0a5.8 5.8 0 1 0 -11.6 0zM871.6 1307.2a5.8 5.8 0 1 0 11.6 0a5.8 5.8 0 1 0 -11.6 0zM878.9 1201.9a5.8 5.8 0 1 0 11.6 0a5.8 5.8 0 1 0 -11.6 0zM886.2 1188.3a5.8 5.8 0 1 0 11.6 0a5.8 5.8 0 1 0 -11.6 0zM893.4 1274.7a5.8 5.8 0 1 0 11.6 0a5.8 5.8 0 1 0 -11.6 0zM900.7 1192.5a5.8 5.8 0 1 0 11.6 0a5.8 5.8 0 1 0 -11.6 0zM908 1339.6a5.8 5.8 0 1 0 11.6 0a5.8 5.8 0 1 0 -11.6 0zM915.2 1537.9a5.8 5.8 0 1 0 11.6 0a5.8 5.8 0 1 0 -11.6 0zM922.5 1568.6a5.8 5.8 0 1 0 11.6 0a5.8 5.8 0 1 0 -11.6 0zM929.8 1477.4a5.8 5.8 0 1 0 11.6 0a5.8 5.8 0 1 0 -11.6 0zM937 1426.2a5.8 5.8 0 1 0 11.6 0a5.8 5.8 0 1 0 -11.6 0zM944.3 1374.3a5.8 5.8 0 1 0 11.6 0a5.8 5.8 0 1 0 -11.6 0zM951.6 1152.3a5.8 5.8 0 1 0 11.6 0a5.8 5.8 0 1 0 -11.6 0zM958.8 981a5.8 5.8 0 1 0 11.6 0a5.8 5.8 0 1 0 -11.6 0zM966.1 908a5.8 5.8 0 1 0 11.6 0a5.8 5.8 0 1 0 -11.6 0zM973.4 997.7a5.8 5.8 0 1 0 11.6 0a5.8 5.8 0 1 0 -11.6 0zM980.6 860.7a5.8 5.8 0 1 0 11.6 0a5.8 5.8 0 1 0 -11.6 0zM987.9 890.7a5.8 5.8 0 1 0 11.6 0a5.8 5.8 0 1 0 -11.6 0zM995.2 974.3a5.8 5.8 0 1 0 11.6 0a5.8 5.8 0 1 0 -11.6 0zM1002.4 866.3a5.8 5.8 0 1 0 11.6 0a5.8 5.8 0 1 0 -11.6 0zM1009.7 1040.7a5.8 5.8 0 1 0 11.6 0a5.8 5.8 0 1 0 -11.6 0zM1017 958.7a5.8 5.8 0 1 0 11.6 0a5.8 5.8 0 1 0 -11.6 0zM1024.2 999.3a5.8 5.8 0 1 0 11.6 0a5.8 5.8 0 1 0 -11.6 0zM1031.5 1158.3a5.8 5.8 0 1 0 11.6 0a5.8 5.8 0 1 0 -11.6 0zM1038.8 1089.3a5.8 5.8 0 1 0 11.6 0a5.8 5.8 0 1 0 -11.6 0zM1046 1187.3a5.8 5.8 0 1 0 11.6 0a5.8 5.8 0 1 0 -11.6 0zM1053.3 1121.7a5.8 5.8 0 1 0 11.6 0a5.8 5.8 0 1 0 -11.6 0zM1060.6 1121.7a5.8 5.8 0 1 0 11.6 0a5.8 5.8 0 1 0 -11.6 0zM1067.8 1107.3a5.8 5.8 0 1 0 11.6 0a5.8 5.8 0 1 0 -11.6 0zM1075.1 979.7a5.8 5.8 0 1 0 11.6 0a5.8 5.8 0 1 0 -11.6 0zM1082.4 1099.3a5.8 5.8 0 1 0 11.6 0a5.8 5.8 0 1 0 -11.6 0zM1089.6 993a5.8 5.8 0 1 0 11.6 0a5.8 5.8 0 1 0 -11.6 0zM1096.9 1027.3a5.8 5.8 0 1 0 11.6 0a5.8 5.8 0 1 0 -11.6 0zM1104.2 1053.7a5.8 5.8 0 1 0 11.6 0a5.8 5.8 0 1 0 -11.6 0zM1111.4 957a5.8 5.8 0 1 0 11.6 0a5.8 5.8 0 1 0 -11.6 0zM1118.7 1088.7a5.8 5.8 0 1 0 11.6 0a5.8 5.8 0 1 0 -11.6 0zM1126 983.3a5.8 5.8 0 1 0 11.6 0a5.8 5.8 0 1 0 -11.6 0zM1133.2 1023.7a5.8 5.8 0 1 0 11.6 0a5.8 5.8 0 1 0 -11.6 0zM1140.5 981a5.8 5.8 0 1 0 11.6 0a5.8 5.8 0 1 0 -11.6 0zM1147.8 924.3a5.8 5.8 0 1 0 11.6 0a5.8 5.8 0 1 0 -11.6 0zM1155 1026.7a5.8 5.8 0 1 0 11.6 0a5.8 5.8 0 1 0 -11.6 0zM1162.3 962a5.8 5.8 0 1 0 11.6 0a5.8 5.8 0 1 0 -11.6 0zM1169.6 1176.3a5.8 5.8 0 1 0 11.6 0a5.8 5.8 0 1 0 -11.6 0zM1176.8 1331.7a5.8 5.8 0 1 0 11.6 0a5.8 5.8 0 1 0 -11.6 0zM1184.1 1195.7a5.8 5.8 0 1 0 11.6 0a5.8 5.8 0 1 0 -11.6 0zM1191.4 917.2a5.8 5.8 0 1 0 11.6 0a5.8 5.8 0 1 0 -11.6 0zM1198.6 697.1a5.8 5.8 0 1 0 11.6 0a5.8 5.8 0 1 0 -11.6 0zM1205.9 842a5.8 5.8 0 1 0 11.6 0a5.8 5.8 0 1 0 -11.6 0zM1213.2 785.3a5.8 5.8 0 1 0 11.6 0a5.8 5.8 0 1 0 -11.6 0zM1220.4 803.4a5.8 5.8 0 1 0 11.6 0a5.8 5.8 0 1 0 -11.6 0zM1227.7 679.4a5.8 5.8 0 1 0 11.6 0a5.8 5.8 0 1 0 -11.6 0zM1235 532.4a5.8 5.8 0 1 0 11.6 0a5.8 5.8 0 1 0 -11.6 0zM1242.2 660.4a5.8 5.8 0 1 0 11.6 0a5.8 5.8 0 1 0 -11.6 0zM1249.5 496.2a5.8 5.8 0 1 0 11.6 0a5.8 5.8 0 1 0 -11.6 0zM1256.8 625.7a5.8 5.8 0 1 0 11.6 0a5.8 5.8 0 1 0 -11.6 0zM1264 541.9a5.8 5.8 0 1 0 11.6 0a5.8 5.8 0 1 0 -11.6 0zM1271.3 485.1a5.8 5.8 0 1 0 11.6 0a5.8 5.8 0 1 0 -11.6 0zM1278.6 566.1a5.8 5.8 0 1 0 11.6 0a5.8 5.8 0 1 0 -11.6 0zM1285.8 426.3a5.8 5.8 0 1 0 11.6 0a5.8 5.8 0 1 0 -11.6 0zM1293.1 527a5.8 5.8 0 1 0 11.6 0a5.8 5.8 0 1 0 -11.6 0zM1300.4 435.6a5.8 5.8 0 1 0 11.6 0a5.8 5.8 0 1 0 -11.6 0zM1307.6 472.6a5.8 5.8 0 1 0 11.6 0a5.8 5.8 0 1 0 -11.6 0zM1314.9 456.6a5.8 5.8 0 1 0 11.6 0a5.8 5.8 0 1 0 -11.6 0zM1322.2 437.5a5.8 5.8 0 1 0 11.6 0a5.8 5.8 0 1 0 -11.6 0zM1329.4 590.1a5.8 5.8 0 1 0 11.6 0a5.8 5.8 0 1 0 -11.6 0zM1336.7 378.1a5.8 5.8 0 1 0 11.6 0a5.8 5.8 0 1 0 -11.6 0zM1344 360.6a5.8 5.8 0 1 0 11.6 0a5.8 5.8 0 1 0 -11.6 0zM1569.3 730.3a5.8 5.8 0 1 0 11.6 0a5.8 5.8 0 1 0 -11.6 0zM1576.5 732.5a5.8 5.8 0 1 0 11.6 0a5.8 5.8 0 1 0 -11.6 0zM1583.8 915.9a5.8 5.8 0 1 0 11.6 0a5.8 5.8 0 1 0 -11.6 0zM1591.1 880.3a5.8 5.8 0 1 0 11.6 0a5.8 5.8 0 1 0 -11.6 0zM1598.3 923.8a5.8 5.8 0 1 0 11.6 0a5.8 5.8 0 1 0 -11.6 0zM1605.6 1060.1a5.8 5.8 0 1 0 11.6 0a5.8 5.8 0 1 0 -11.6 0zM1612.9 993.6a5.8 5.8 0 1 0 11.6 0a5.8 5.8 0 1 0 -11.6 0zM1620.1 985.4a5.8 5.8 0 1 0 11.6 0a5.8 5.8 0 1 0 -11.6 0zM1627.4 935a5.8 5.8 0 1 0 11.6 0a5.8 5.8 0 1 0 -11.6 0zM1634.7 666.5a5.8 5.8 0 1 0 11.6 0a5.8 5.8 0 1 0 -11.6 0zM1641.9 740.4a5.8 5.8 0 1 0 11.6 0a5.8 5.8 0 1 0 -11.6 0zM1649.2 1028.6a5.8 5.8 0 1 0 11.6 0a5.8 5.8 0 1 0 -11.6 0zM1656.5 1171.4a5.8 5.8 0 1 0 11.6 0a5.8 5.8 0 1 0 -11.6 0zM1663.7 1341a5.8 5.8 0 1 0 11.6 0a5.8 5.8 0 1 0 -11.6 0zM1671 1397.7a5.8 5.8 0 1 0 11.6 0a5.8 5.8 0 1 0 -11.6 0zM1678.3 1419a5.8 5.8 0 1 0 11.6 0a5.8 5.8 0 1 0 -11.6 0zM1685.5 1340.4a5.8 5.8 0 1 0 11.6 0a5.8 5.8 0 1 0 -11.6 0zM1692.8 1306.4a5.8 5.8 0 1 0 11.6 0a5.8 5.8 0 1 0 -11.6 0zM1700.1 1366.8a5.8 5.8 0 1 0 11.6 0a5.8 5.8 0 1 0 -11.6 0zM1707.3 1376.8a5.8 5.8 0 1 0 11.6 0a5.8 5.8 0 1 0 -11.6 0zM1714.6 1444.6a5.8 5.8 0 1 0 11.6 0a5.8 5.8 0 1 0 -11.6 0zM1721.9 1450.1a5.8 5.8 0 1 0 11.6 0a5.8 5.8 0 1 0 -11.6 0zM1729.1 1481.4a5.8 5.8 0 1 0 11.6 0a5.8 5.8 0 1 0 -11.6 0zM1736.4 1526.3a5.8 5.8 0 1 0 11.6 0a5.8 5.8 0 1 0 -11.6 0zM1743.7 1565.7a5.8 5.8 0 1 0 11.6 0a5.8 5.8 0 1 0 -11.6 0zM1750.9 1567.5a5.8 5.8 0 1 0 11.6 0a5.8 5.8 0 1 0 -11.6 0zM1758.2 1525a5.8 5.8 0 1 0 11.6 0a5.8 5.8 0 1 0 -11.6 0zM1765.5 1583.2a5.8 5.8 0 1 0 11.6 0a5.8 5.8 0 1 0 -11.6 0zM1772.7 1526.8a5.8 5.8 0 1 0 11.6 0a5.8 5.8 0 1 0 -11.6 0zM1780 1540.4a5.8 5.8 0 1 0 11.6 0a5.8 5.8 0 1 0 -11.6 0zM1787.3 1502.9a5.8 5.8 0 1 0 11.6 0a5.8 5.8 0 1 0 -11.6 0zM1794.5 1508.2a5.8 5.8 0 1 0 11.6 0a5.8 5.8 0 1 0 -11.6 0zM1801.8 1472.5a5.8 5.8 0 1 0 11.6 0a5.8 5.8 0 1 0 -11.6 0zM1809.1 1464.6a5.8 5.8 0 1 0 11.6 0a5.8 5.8 0 1 0 -11.6 0zM1816.3 1457.9a5.8 5.8 0 1 0 11.6 0a5.8 5.8 0 1 0 -11.6 0zM1823.6 1417.9a5.8 5.8 0 1 0 11.6 0a5.8 5.8 0 1 0 -11.6 0zM1830.9 1402.9a5.8 5.8 0 1 0 11.6 0a5.8 5.8 0 1 0 -11.6 0zM1838.1 1406.4a5.8 5.8 0 1 0 11.6 0a5.8 5.8 0 1 0 -11.6 0zM1845.4 1383.2a5.8 5.8 0 1 0 11.6 0a5.8 5.8 0 1 0 -11.6 0zM1852.7 1363.6a5.8 5.8 0 1 0 11.6 0a5.8 5.8 0 1 0 -11.6 0zM1859.9 1325.4a5.8 5.8 0 1 0 11.6 0a5.8 5.8 0 1 0 -11.6 0zM1867.2 1278.6a5.8 5.8 0 1 0 11.6 0a5.8 5.8 0 1 0 -11.6 0zM1874.5 1287.5a5.8 5.8 0 1 0 11.6 0a5.8 5.8 0 1 0 -11.6 0zM1881.7 1287.9a5.8 5.8 0 1 0 11.6 0a5.8 5.8 0 1 0 -11.6 0zM1889 1306.1a5.8 5.8 0 1 0 11.6 0a5.8 5.8 0 1 0 -11.6 0zM1896.3 1253.3a5.8 5.8 0 1 0 11.6 0a5.8 5.8 0 1 0 -11.6 0zM1903.5 1149.5a5.8 5.8 0 1 0 11.6 0a5.8 5.8 0 1 0 -11.6 0zM1910.8 1141.3a5.8 5.8 0 1 0 11.6 0a5.8 5.8 0 1 0 -11.6 0zM1918.1 1190.3a5.8 5.8 0 1 0 11.6 0a5.8 5.8 0 1 0 -11.6 0zM1925.3 1100.1a5.8 5.8 0 1 0 11.6 0a5.8 5.8 0 1 0 -11.6 0zM1932.6 998.4a5.8 5.8 0 1 0 11.6 0a5.8 5.8 0 1 0 -11.6 0zM1939.9 1101.8a5.8 5.8 0 1 0 11.6 0a5.8 5.8 0 1 0 -11.6 0zM1947.1 1048.2a5.8 5.8 0 1 0 11.6 0a5.8 5.8 0 1 0 -11.6 0zM1954.4 940.4a5.8 5.8 0 1 0 11.6 0a5.8 5.8 0 1 0 -11.6 0zM1961.7 1054.7a5.8 5.8 0 1 0 11.6 0a5.8 5.8 0 1 0 -11.6 0zM1968.9 950.8a5.8 5.8 0 1 0 11.6 0a5.8 5.8 0 1 0 -11.6 0zM1976.2 1036.5a5.8 5.8 0 1 0 11.6 0a5.8 5.8 0 1 0 -11.6 0zM1983.5 969.6a5.8 5.8 0 1 0 11.6 0a5.8 5.8 0 1 0 -11.6 0zM1990.7 1037.1a5.8 5.8 0 1 0 11.6 0a5.8 5.8 0 1 0 -11.6 0zM1998 1047.8a5.8 5.8 0 1 0 11.6 0a5.8 5.8 0 1 0 -11.6 0zM2005.3 1084.7a5.8 5.8 0 1 0 11.6 0a5.8 5.8 0 1 0 -11.6 0zM2012.5 1041a5.8 5.8 0 1 0 11.6 0a5.8 5.8 0 1 0 -11.6 0zM2019.8 1000a5.8 5.8 0 1 0 11.6 0a5.8 5.8 0 1 0 -11.6 0zM2027.1 947.6a5.8 5.8 0 1 0 11.6 0a5.8 5.8 0 1 0 -11.6 0zM2034.3 948.4a5.8 5.8 0 1 0 11.6 0a5.8 5.8 0 1 0 -11.6 0zM2041.6 977.5a5.8 5.8 0 1 0 11.6 0a5.8 5.8 0 1 0 -11.6 0zM2048.9 1008a5.8 5.8 0 1 0 11.6 0a5.8 5.8 0 1 0 -11.6 0zM2056.1 1050.6a5.8 5.8 0 1 0 11.6 0a5.8 5.8 0 1 0 -11.6 0zM2063.4 1087.4a5.8 5.8 0 1 0 11.6 0a5.8 5.8 0 1 0 -11.6 0zM2070.7 1154.9a5.8 5.8 0 1 0 11.6 0a5.8 5.8 0 1 0 -11.6 0zM2077.9 1249a5.8 5.8 0 1 0 11.6 0a5.8 5.8 0 1 0 -11.6 0zM2085.2 1356.3a5.8 5.8 0 1 0 11.6 0a5.8 5.8 0 1 0 -11.6 0zM2092.5 1468.7a5.8 5.8 0 1 0 11.6 0a5.8 5.8 0 1 0 -11.6 0zM2099.7 1567.2a5.8 5.8 0 1 0 11.6 0a5.8 5.8 0 1 0 -11.6 0zM2107 1532.8a5.8 5.8 0 1 0 11.6 0a5.8 5.8 0 1 0 -11.6 0zM2114.3 1229.5a5.8 5.8 0 1 0 11.6 0a5.8 5.8 0 1 0 -11.6 0zM2121.5 850.1a5.8 5.8 0 1 0 11.6 0a5.8 5.8 0 1 0 -11.6 0zM2128.8 575.5a5.8 5.8 0 1 0 11.6 0a5.8 5.8 0 1 0 -11.6 0zM2136.1 446.6a5.8 5.8 0 1 0 11.6 0a5.8 5.8 0 1 0 -11.6 0zM2143.3 371.7a5.8 5.8 0 1 0 11.6 0a5.8 5.8 0 1 0 -11.6 0zM2150.6 318.9a5.8 5.8 0 1 0 11.6 0a5.8 5.8 0 1 0 -11.6 0z" fill="none" stroke-width="2.0"/>
</g>
<g id="labels">
<text class="tk" transform="translate(353.7 181.8) scale(1 1.065)" text-anchor="middle">14.9</text>
<text class="tk" transform="translate(353.7 1770.7) scale(1 1.065)" text-anchor="middle">670</text>
<text class="tk" transform="translate(608.1 181.8) scale(1 1.065)" text-anchor="middle">14.4</text>
<text class="tk" transform="translate(608.1 1770.7) scale(1 1.065)" text-anchor="middle">691</text>
<text class="tk" transform="translate(826.2 181.8) scale(1 1.065)" text-anchor="middle">14.0</text>
<text class="tk" transform="translate(826.2 1770.7) scale(1 1.065)" text-anchor="middle">710</text>
<text class="tk" transform="translate(1007.9 181.8) scale(1 1.065)" text-anchor="middle">13.8</text>
<text class="tk" transform="translate(1007.9 1770.7) scale(1 1.065)" text-anchor="middle">725</text>
<text class="tk" transform="translate(1349.6 181.8) scale(1 1.065)" text-anchor="middle">13.2</text>
<text class="tk" transform="translate(1349.6 1770.7) scale(1 1.065)" text-anchor="middle">755</text>
<text class="tk" transform="translate(1574.9 181.8) scale(1 1.065)" text-anchor="middle">4.5</text>
<text class="tk" transform="translate(1574.9 1770.7) scale(1 1.065)" text-anchor="middle">2200</text>
<text class="tk" transform="translate(1865.7 181.8) scale(1 1.065)" text-anchor="middle">4.3</text>
<text class="tk" transform="translate(1865.7 1770.7) scale(1 1.065)" text-anchor="middle">2300</text>
<text class="tk" transform="translate(2156.4 181.8) scale(1 1.065)" text-anchor="middle">4.2</text>
<text class="tk" transform="translate(2156.4 1770.7) scale(1 1.065)" text-anchor="middle">2400</text>
<text class="tk" transform="translate(285.6 252.2) scale(1 1.065)" text-anchor="end">270</text>
<text class="tk" transform="translate(285.6 539.1) scale(1 1.065)" text-anchor="end">260</text>
<text class="tk" transform="translate(285.6 826) scale(1 1.065)" text-anchor="end">250</text>
<text class="tk" transform="translate(285.6 1112.9) scale(1 1.065)" text-anchor="end">240</text>
<text class="tk" transform="translate(285.6 1399.8) scale(1 1.065)" text-anchor="end">230</text>
<text class="tk" transform="translate(285.6 1686.7) scale(1 1.065)" text-anchor="end">220</text>
<text class="tk" transform="translate(2179.5 252.2) scale(1 1.065)" text-anchor="start">5</text>
<text class="tk" transform="translate(2179.5 439.9) scale(1 1.065)" text-anchor="start">10</text>
<text class="tk" transform="translate(2179.5 737.3) scale(1 1.065)" text-anchor="start">30</text>
<text class="tk" transform="translate(2179.5 875.6) scale(1 1.065)" text-anchor="start">50</text>
<text class="tk" transform="translate(2179.5 1063.3) scale(1 1.065)" text-anchor="start">100</text>
<text class="tk" transform="translate(2179.5 1251) scale(1 1.065)" text-anchor="start">200</text>
<text class="tk" transform="translate(2179.5 1360.7) scale(1 1.065)" text-anchor="start">300</text>
<text class="tk" transform="translate(2179.5 1499) scale(1 1.065)" text-anchor="start">500</text>
<text class="tk" transform="translate(2179.5 1590.1) scale(1 1.065)" text-anchor="start">700</text>
<text class="tk" transform="translate(2179.5 1686.7) scale(1 1.065)" text-anchor="start">1000</text>
<text class="rg" transform="translate(823.3 346.6) scale(1 1.02)" text-anchor="middle">LWIR</text>
<text class="rg" transform="translate(1461.9 346.6) scale(1 1.02)" text-anchor="middle">MWIR</text>
<text class="rg" transform="translate(1874 346.6) scale(1 1.02)" text-anchor="middle">SWIR</text>
<text class="tt" x="1056" y="91">Wavelength (</text>
<text class="tt" transform="translate(1423 90.5) scale(1.18 0.97)" style="font-family:'DejaVu Sans Light','DejaVu Sans',sans-serif;font-style:italic;font-weight:200" stroke="#000" stroke-width="0.8">μ</text>
<text class="tt" x="1477" y="91">m)</text>
<text class="tt" x="981" y="1864.2">Wavenumber (cm<tspan font-size="42" dy="-29.5" dx="1.5">-1</tspan><tspan dy="29.5" dx="0">)</tspan></text>
<text class="tt" transform="translate(141.4 1334.2) rotate(-90)">Brightness Temperature (K)</text>
<text class="tt" transform="translate(2350.8 591.6) rotate(90)">Weighting Function (hPa)</text>
</g>
</svg></body></html>
